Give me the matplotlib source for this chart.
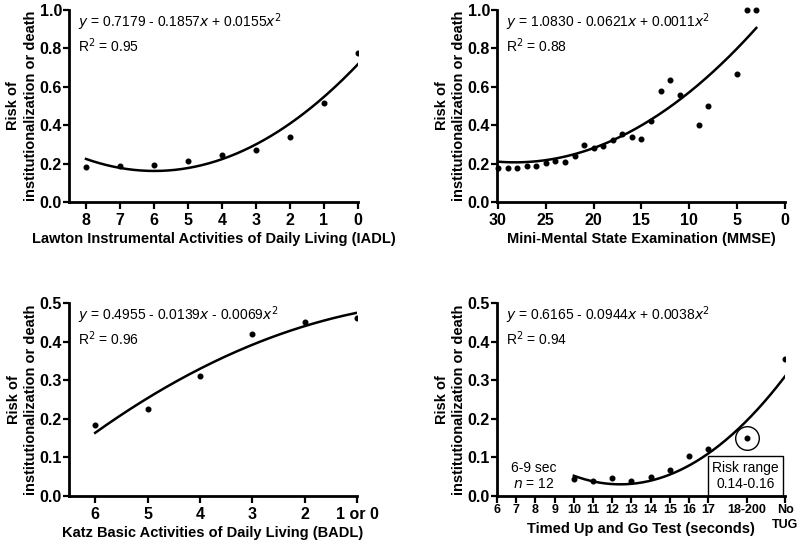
import matplotlib
matplotlib.use("Agg")
import matplotlib.pyplot as plt
import numpy as np
from matplotlib.patches import Rectangle

plt.rcParams['font.family'] = ['Liberation Sans', 'DejaVu Sans']

# ---- Data ----
iadl_x = [8, 7, 6, 5, 4, 3, 2, 1, 0]
iadl_y = [0.18, 0.19, 0.195, 0.215, 0.245, 0.27, 0.34, 0.515, 0.775]
iadl_coef = [0.7179, -0.1857, 0.0155]

mmse_x = [30, 29, 28, 27, 26, 25, 24, 23, 22, 21, 20, 19, 18, 17, 16, 15, 14, 13, 12, 11, 9, 8, 5, 4, 3]
mmse_y = [0.175, 0.175, 0.178, 0.185, 0.19, 0.205, 0.215, 0.21, 0.24, 0.295, 0.28, 0.29, 0.325,
          0.355, 0.34, 0.33, 0.42, 0.58, 0.635, 0.555, 0.40, 0.50, 0.665, 1.0, 1.0]
mmse_coef = [1.0830, -0.0621, 0.0011]

badl_x = [6, 5, 4, 3, 2, 1]
badl_y = [0.183, 0.225, 0.312, 0.42, 0.45, 0.462]
badl_ticklabels = ['6', '5', '4', '3', '2', '1 or 0']
badl_coef = [0.4955, -0.0139, -0.0069]

tug_x = [10, 11, 12, 13, 14, 15, 16, 17, 19, 21]
tug_y = [0.045, 0.038, 0.047, 0.038, 0.048, 0.068, 0.103, 0.123, 0.15, 0.355]
tug_ticks = [6, 7, 8, 9, 10, 11, 12, 13, 14, 15, 16, 17, 19, 21]
tug_ticklabels = ['6', '7', '8', '9', '10', '11', '12', '13', '14', '15', '16', '17', '18-200', 'No\nTUG']
tug_coef = [0.6165, -0.0944, 0.0038]

W, H = 800, 547
fig = plt.figure(figsize=(8, 5.47), dpi=100)

def make_ax(l, r, t, b):
    return fig.add_axes([l / W, 1 - b / H, (r - l) / W, (b - t) / H])

ylabel = 'Risk of\ninstitutionalization or death'

def style(ax, xlabel, yticks):
    for s in ['top', 'right']:
        ax.spines[s].set_visible(False)
    for s in ['left', 'bottom']:
        ax.spines[s].set_linewidth(2)
    ax.tick_params(axis='y', direction='out', length=4, width=1.6, labelsize=11.5, pad=1)
    ax.tick_params(axis='x', direction='out', length=5, width=1.6, labelsize=11.5, pad=3)
    ax.set_yticks(yticks)
    ax.set_yticklabels([f'{v:.1f}' for v in yticks], fontweight='bold')
    ax.set_xlabel(xlabel, fontsize=10.5, fontweight='bold', labelpad=3)
    ax.set_ylabel(ylabel, fontsize=10.5, fontweight='bold', linespacing=1.3)
    ax.yaxis.set_label_coords(-0.108, 0.5)

def curve(ax, coef, x0, x1):
    xs = np.linspace(x0, x1, 200)
    ys = coef[0] + coef[1] * xs + coef[2] * xs ** 2
    ax.plot(xs, ys, color='black', lw=1.8)

def eq(ax, a, b, c, r2):
    sb = '-' if b < 0 else '+'
    sc = '-' if c < 0 else '+'
    ax.text(0.03, 0.995, f'$y$ = {a:.4f} {sb} {abs(b):.4f}$x$ {sc} {abs(c):.4f}$x^2$\nR$^2$ = {r2:.2f}',
            transform=ax.transAxes, ha='left', va='top', fontsize=10, linespacing=1.25)

# Panel 1: IADL
ax1 = make_ax(69, 358, 10, 202)
ax1.scatter(iadl_x, iadl_y, s=11, color='black', zorder=3)
curve(ax1, iadl_coef, 8, 0)
ax1.set_xlim(8.5, 0)
ax1.set_ylim(0, 1.0)
ax1.set_xticks(iadl_x)
ax1.set_xticklabels([str(v) for v in iadl_x], fontweight='bold')
style(ax1, 'Lawton Instrumental Activities of Daily Living (IADL)', np.arange(0, 1.01, 0.2))
eq(ax1, *iadl_coef, 0.95)

# Panel 2: MMSE
ax2 = make_ax(497, 785, 10, 202)
ax2.scatter(mmse_x, mmse_y, s=11, color='black', zorder=3, clip_on=False)
curve(ax2, mmse_coef, 30, 3)
ax2.set_xlim(30.1, 0)
ax2.set_ylim(0, 1.0)
ax2.set_xticks([30, 25, 20, 15, 10, 5, 0])
ax2.set_xticklabels(['30', '25', '20', '15', '10', '5', '0'], fontweight='bold')
style(ax2, 'Mini-Mental State Examination (MMSE)', np.arange(0, 1.01, 0.2))
eq(ax2, *mmse_coef, 0.88)

# Panel 3: BADL
ax3 = make_ax(69, 357, 303, 496)
ax3.scatter(badl_x, badl_y, s=11, color='black', zorder=3)
curve(ax3, badl_coef, 6, 1)
ax3.set_xlim(6.5, 1)
ax3.set_ylim(0, 0.5)
ax3.set_xticks(badl_x)
ax3.set_xticklabels(badl_ticklabels, fontweight='bold')
style(ax3, 'Katz Basic Activities of Daily Living (BADL)', np.arange(0, 0.51, 0.1))
eq(ax3, *badl_coef, 0.96)

# Panel 4: TUG
ax4 = make_ax(497, 785, 303, 496)
ax4.scatter(tug_x, tug_y, s=11, color='black', zorder=3)
curve(ax4, tug_coef, 10, 21)
ax4.set_xlim(6, 21)
ax4.set_ylim(0, 0.5)
ax4.set_xticks(tug_ticks)
ax4.set_xticklabels([''] * len(tug_ticks))
style(ax4, 'Timed Up and Go Test (seconds)', np.arange(0, 0.51, 0.1))
xt = ax4.get_xaxis_transform()
for pos, lab in zip(tug_ticks, tug_ticklabels):
    ax4.text(pos, -0.042, lab, transform=xt, ha='center', va='top', fontsize=9,
             fontweight='bold', linespacing=1.3)
ax4.xaxis.set_label_coords(0.5, -0.135)
eq(ax4, *tug_coef, 0.94)
ax4.text(7.9, 0.052, '6-9 sec\n$n$ = 12', ha='center', va='center', fontsize=10, linespacing=1.2)
ax4.plot([tug_x[8]], [tug_y[8]], marker='o', ms=17, mfc='none', mec='black', mew=1.0)
ax4.add_patch(Rectangle((17, 0), 3.9, 0.104, fill=False, ec='black', lw=1.0, clip_on=False))
ax4.text(18.95, 0.052, 'Risk range\n0.14-0.16', ha='center', va='center', fontsize=10, linespacing=1.2)

fig.savefig('out.png', dpi=100)
